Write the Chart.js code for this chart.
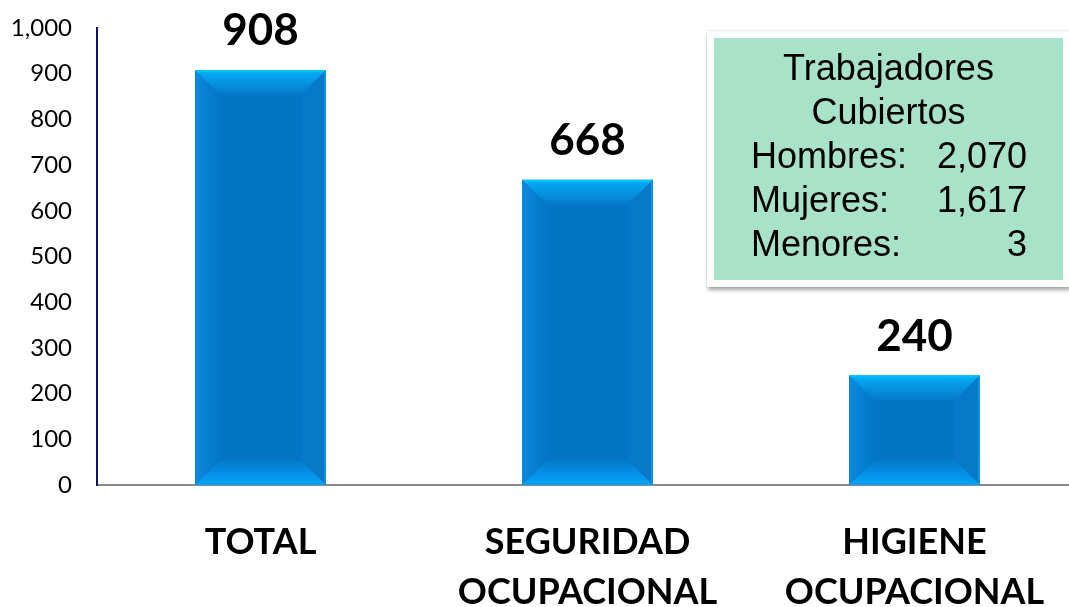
<!DOCTYPE html>
<html>
<head>
<meta charset="utf-8">
<script src="https://cdn.jsdelivr.net/npm/chart.js@4/dist/chart.umd.min.js"></script>
<style>
  html, body { margin: 0; padding: 0; background: #fff; overflow: hidden; }
  #wrap { position: relative; width: 1090px; height: 607px; }
  #box {
    position: absolute; left: 707px; top: 31px; width: 349px; height: 234px;
    background: #a8e2c9; border: 7px solid #fff;
    box-shadow: 1px 3px 4px rgba(0,0,0,0.35), 0 0 1px rgba(0,0,0,0.3);
    font-family: "Liberation Sans", Arial, sans-serif; font-size: 36px; color: #000;
    line-height: 44px; padding-top: 8px; box-sizing: content-box;
  }
  #box .t { text-align: center; }
  #box .r { display: flex; justify-content: space-between; padding: 0 36px 0 37px; }
</style>
</head>
<body>
<div id="wrap">
  <canvas id="c" width="1090" height="607"></canvas>
  <div id="box"></div>
</div>
<script>
const categories = ['TOTAL', ['SEGURIDAD', 'OCUPACIONAL'], ['HIGIENE', 'OCUPACIONAL']];
const values = [908, 668, 240];
const yTicks = [0, 100, 200, 300, 400, 500, 600, 700, 800, 900, 1000];
const boxTitle = ['Trabajadores', 'Cubiertos'];
const boxLabels = ['Hombres:', 'Mujeres:', 'Menores:'];
const boxValues = ['2,070', '1,617', '3'];

// info box
let box = document.getElementById('box');
let html = boxTitle.map(t => '<div class="t">' + t + '</div>').join('');
for (let i = 0; i < boxLabels.length; i++) {
  html += '<div class="r"><span>' + boxLabels[i] + '</span><span>' + boxValues[i] + '</span></div>';
}
box.innerHTML = html;

// bevelled bars + value labels
const bevel = {
  id: 'bevel',
  afterDatasetsDraw(chart) {
    const ctx = chart.ctx;
    const meta = chart.getDatasetMeta(0);
    meta.data.forEach((bar, i) => {
      const l = bar.x - bar.width / 2, r = bar.x + bar.width / 2;
      const t = bar.y, b = bar.base;
      const d = Math.min(25, (b - t) / 2);
      ctx.save();
      // left side
      let g = ctx.createLinearGradient(l, 0, l + d, 0);
      g.addColorStop(0, '#0a8ade');
      g.addColorStop(1, '#0475c5');
      ctx.fillStyle = g;
      ctx.beginPath();
      ctx.moveTo(l, t); ctx.lineTo(l + d, t + d); ctx.lineTo(l + d, b - d); ctx.lineTo(l, b);
      ctx.closePath(); ctx.fill();
      // right side
      ctx.fillStyle = '#0679c8';
      ctx.beginPath();
      ctx.moveTo(r, t); ctx.lineTo(r - d, t + d); ctx.lineTo(r - d, b - d); ctx.lineTo(r, b);
      ctx.closePath(); ctx.fill();
      ctx.fillStyle = '#1490e2';
      ctx.fillRect(r - 2, t, 2, b - t);
      // top
      g = ctx.createLinearGradient(0, t, 0, t + d);
      g.addColorStop(0, '#00d2ff');
      g.addColorStop(0.12, '#05a8f2');
      g.addColorStop(1, '#0579c8');
      ctx.fillStyle = g;
      ctx.beginPath();
      ctx.moveTo(l, t); ctx.lineTo(r, t); ctx.lineTo(r - d, t + d); ctx.lineTo(l + d, t + d);
      ctx.closePath(); ctx.fill();
      // bottom
      g = ctx.createLinearGradient(0, b - d, 0, b);
      g.addColorStop(0, '#0579c8');
      g.addColorStop(1, '#03a4fc');
      ctx.fillStyle = g;
      ctx.beginPath();
      ctx.moveTo(l, b); ctx.lineTo(r, b); ctx.lineTo(r - d, b - d); ctx.lineTo(l + d, b - d);
      ctx.closePath(); ctx.fill();
      // value label
      ctx.fillStyle = '#000';
      ctx.font = 'bold 44px Lato, "Open Sans", sans-serif';
      ctx.textAlign = 'center';
      ctx.textBaseline = 'middle';
      ctx.fillText(values[i].toString(), bar.x, t - 39);
      ctx.restore();
    });
  }
};

new Chart(document.getElementById('c'), {
  type: 'bar',
  data: {
    labels: categories,
    datasets: [{
      data: values,
      backgroundColor: '#0474c4',
      borderWidth: 0,
      barPercentage: 0.4,
      categoryPercentage: 1
    }]
  },
  options: {
    responsive: false,
    animation: false,
    layout: { padding: { top: 0, right: 12, left: 0, bottom: 0 } },
    plugins: { legend: { display: false }, tooltip: { enabled: false } },
    scales: {
      x: {
        grid: { display: false, drawTicks: false },
        border: { display: true, color: '#8a8a8a', width: 2 },
        ticks: {
          color: '#000', padding: 32,
          font: { family: 'Lato, "Open Sans", sans-serif', size: 36, weight: 'bold', lineHeight: 1.4 }
        },
        afterFit: s => { s.height = 122; }
      },
      y: {
        min: 0, max: 1000,
        afterBuildTicks: s => { s.ticks = yTicks.map(v => ({ value: v })); },
        grid: { display: false, drawTicks: false },
        border: { display: true, color: '#101070', width: 2 },
        ticks: {
          color: '#000', padding: 25,
          font: { family: 'Lato, "Open Sans", sans-serif', size: 24 },
          callback: v => v.toLocaleString('en-US')
        },
        afterFit: s => { s.width = 97; s.paddingTop = 28; s.paddingBottom = 14; }
      }
    }
  },
  plugins: [bevel]
});
</script>
</body>
</html>
